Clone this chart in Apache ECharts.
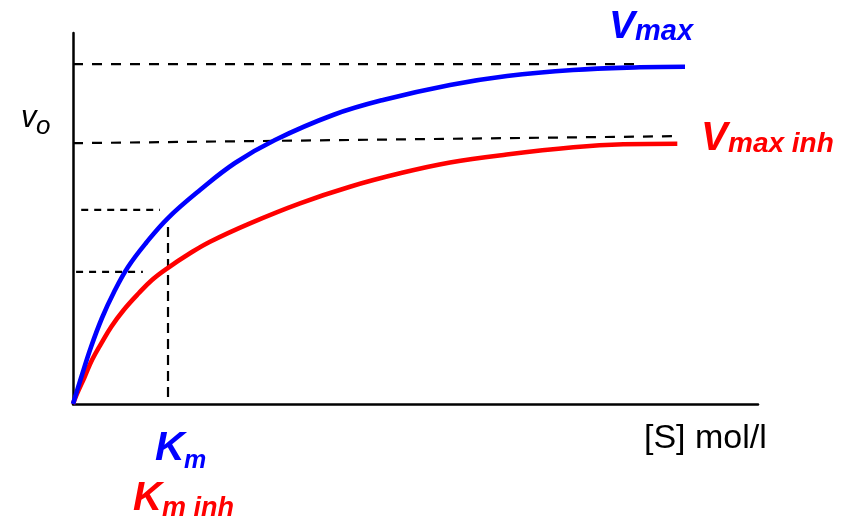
<!DOCTYPE html>
<html>
<head>
<meta charset="utf-8">
<script src="https://cdn.jsdelivr.net/npm/echarts@6/dist/echarts.min.js"></script>
<style>
html,body{margin:0;padding:0;background:#fff;}
#chart{width:846px;height:521px;}
</style>
</head>
<body>
<div id="chart"></div>
<script>
// Substrate concentration [S] (arbitrary units) and initial velocity v0 (arbitrary units)
const sBlue = [0,1.17,2.63,4.23,5.99,8.03,10.66,13.87,18.54,23.65,29.49,37.96,45.26,55.04,63.36,72.99,82.77,89.34];
const vBlue = [0,7.01,15.36,23.18,30.19,36.93,43.40,50.13,57.68,64.96,71.16,77.90,81.94,85.98,88.41,90.03,90.76,90.92];
const sRed = [0,0.44,1.71,2.77,4.13,5.59,7.40,9.59,11.53,13.77,17.08,20.0,25.84,33.14,40.44,47.74,55.04,63.31,73.04,80.34,88.22];
const vRed = [0,2.16,7.36,11.86,16.36,20.84,25.34,29.84,33.42,36.58,40.62,43.75,48.71,54.10,58.57,62.18,65.09,67.25,69.19,70.0,70.16];

// Guide (dashed) lines
const vmaxGuideS = [0, 83.2];
const vmaxGuideV = [91.6, 91.6];
const vinhGuideS = [0, 88.5];
const vinhGuideV = [70.3, 72.2];
const halfVmaxS = [1.2, 12.7];
const halfVmaxV = [52.3, 52.3];
const halfVinhS = [0.45, 10.2];
const halfVinhV = [35.6, 35.6];
const kmGuideS = [13.87, 13.87];
const kmGuideV = [1.9, 49.3];

// Axis ranges
const sRange = [0, 100];
const vRange = [0, 100];

// Label texts
const labelVmax = ['V', 'max'];
const labelVinh = ['V', 'max inh'];
const labelKm = ['K', 'm'];
const labelKinh = ['K', 'm inh'];
const labelY = ['v', 'o'];
const labelX = '[S] mol/l';

const zip = (a, b) => a.map((x, i) => [x, b[i]]);

const chart = echarts.init(document.getElementById('chart'), null, {renderer: 'canvas'});

function guide(name, s, v, dash) {
  return {
    name: name, type: 'line', data: zip(s, v), showSymbol: false, silent: true,
    lineStyle: {color: '#000', width: 2.2, type: dash},
    z: 1
  };
}

const FF = '"Liberation Sans", Arial, sans-serif';
function txt(text, x, y, size, color, bold) {
  return {
    type: 'text', silent: true, z: 10,
    style: {
      text: text, x: x, y: y,
      font: 'italic ' + (bold ? 'bold ' : '') + size + 'px ' + FF,
      fill: color, verticalAlign: 'middle', align: 'left'
    }
  };
}

chart.setOption({
  animation: false,
  backgroundColor: '#fff',
  grid: {left: 73, top: 33, right: 88, bottom: 117, containLabel: false},
  xAxis: {
    type: 'value', min: sRange[0], max: sRange[1],
    axisLine: {show: true, onZero: false, lineStyle: {color: '#000', width: 2.5}},
    axisTick: {show: false}, axisLabel: {show: false}, splitLine: {show: false}
  },
  yAxis: {
    type: 'value', min: vRange[0], max: vRange[1],
    axisLine: {show: true, onZero: false, lineStyle: {color: '#000', width: 2.5}},
    axisTick: {show: false}, axisLabel: {show: false}, splitLine: {show: false}
  },
  series: [
    guide('Vmax guide', vmaxGuideS, vmaxGuideV, [10, 9]),
    guide('Vmax inh guide', vinhGuideS, vinhGuideV, [10, 9]),
    guide('Vmax/2', halfVmaxS, halfVmaxV, [7, 6]),
    guide('Vmax inh/2', halfVinhS, halfVinhV, [7, 6]),
    guide('Km', kmGuideS, kmGuideV, [10, 6]),
    {
      name: 'uninhibited', type: 'line', data: zip(sBlue, vBlue),
      showSymbol: false, smooth: 0.4,
      lineStyle: {color: '#0000ff', width: 4.6}, z: 3
    },
    {
      name: 'inhibited', type: 'line', data: zip(sRed, vRed),
      showSymbol: false, smooth: 0.4,
      lineStyle: {color: '#ff0000', width: 4.6}, z: 2
    }
  ],
  graphic: [
    txt(labelVmax[0], 609, 27, 39, '#0000ff', true),
    txt(labelVmax[1], 635, 32, 29, '#0000ff', true),
    txt(labelVinh[0], 701, 138.5, 40, '#ff0000', true),
    txt(labelVinh[1], 728, 144, 28, '#ff0000', true),
    txt(labelKm[0], 155, 449, 41, '#0000ff', true),
    txt(labelKm[1], 184, 461, 25, '#0000ff', true),
    txt(labelKinh[0], 133, 498.5, 40, '#ff0000', true),
    txt(labelKinh[1], 162, 509, 27, '#ff0000', true),
    txt(labelY[0], 21, 118, 31, '#000', false),
    txt(labelY[1], 36, 127, 26, '#000', false),
    {
      type: 'text', silent: true, z: 10,
      style: {text: labelX, x: 644, y: 439, font: '34px ' + FF, fill: '#000', verticalAlign: 'middle', align: 'left'}
    }
  ]
});
</script>
</body>
</html>
